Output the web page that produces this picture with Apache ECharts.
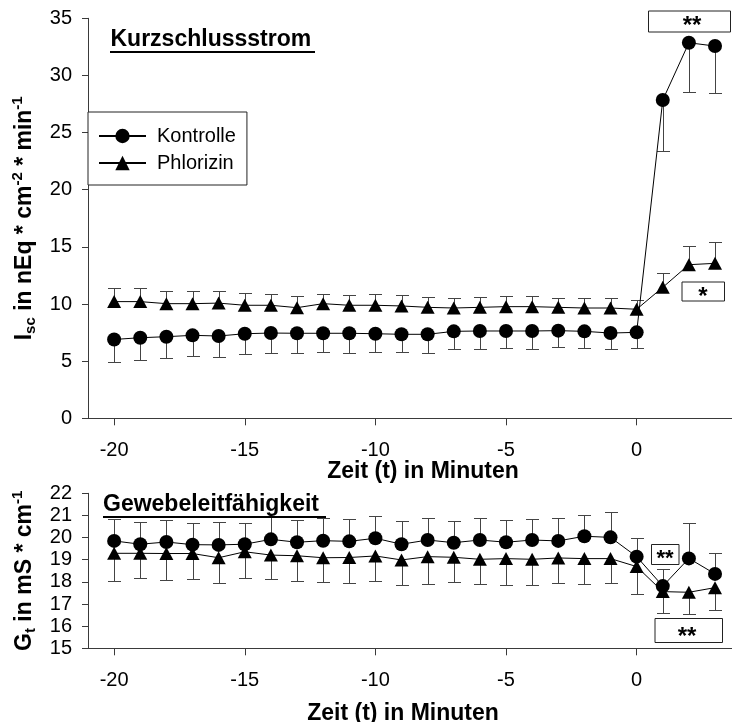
<!DOCTYPE html>
<html>
<head>
<meta charset="utf-8">
<script src="https://cdn.jsdelivr.net/npm/echarts@6/dist/echarts.min.js"></script>
<style>
  html, body { margin: 0; padding: 0; background: #fff; }
  #chart { width: 732px; height: 722px; }
</style>
</head>
<body>
<div id="chart"></div>
<script>
// Time points (minutes relative to substance addition)
const minutes = [-20, -19, -18, -17, -16, -15, -14, -13, -12, -11, -10, -9, -8, -7, -6, -5, -4, -3, -2, -1, 0, 1, 2, 3];
const xTickValues = [-20, -15, -10, -5, 0];
const seriesNames = ['Kontrolle', 'Phlorizin'];

// Short-circuit current Isc (nEq * cm^-2 * min^-1), mean and SEM
const iscKontrolle = [6.90, 7.05, 7.14, 7.26, 7.20, 7.40, 7.46, 7.44, 7.44, 7.44, 7.40, 7.35, 7.35, 7.61, 7.64, 7.64, 7.64, 7.67, 7.61, 7.46, 7.52, 27.85, 32.86, 32.57];
const iscKontrolleSem = [1.95, 1.95, 1.89, 1.81, 1.81, 1.77, 1.75, 1.73, 1.64, 1.70, 1.57, 1.58, 1.61, 1.57, 1.55, 1.52, 1.55, 1.46, 1.43, 1.42, 1.34, 4.45, 4.29, 4.14];
const iscPhlorizin = [10.21, 10.21, 10.03, 10.03, 10.08, 9.89, 9.89, 9.68, 10.03, 9.89, 9.89, 9.83, 9.71, 9.65, 9.71, 9.77, 9.77, 9.71, 9.65, 9.65, 9.54, 11.46, 13.44, 13.56];
const iscPhlorizinSem = [1.19, 1.19, 1.11, 1.11, 1.06, 1.10, 1.01, 1.02, 0.87, 0.93, 0.96, 0.93, 0.93, 0.88, 0.93, 0.93, 0.93, 0.84, 0.88, 0.85, 0.81, 1.22, 1.66, 1.89];

// Tissue conductance Gt (mS * cm^-1), mean and SEM
const gtKontrolle = [19.85, 19.70, 19.80, 19.68, 19.67, 19.70, 19.92, 19.79, 19.86, 19.83, 19.97, 19.70, 19.89, 19.77, 19.89, 19.79, 19.89, 19.85, 20.06, 20.01, 19.14, 17.81, 19.06, 18.36];
const gtKontrolleSem = [0.98, 1.02, 1.00, 0.97, 1.05, 0.97, 1.02, 1.01, 1.01, 1.02, 1.02, 1.04, 0.98, 0.99, 0.98, 1.01, 0.94, 1.02, 0.97, 1.16, 0.85, 0.77, 1.59, 0.96];
const gtPhlorizin = [19.29, 19.29, 19.28, 19.28, 19.09, 19.36, 19.21, 19.18, 19.09, 19.10, 19.17, 18.99, 19.14, 19.11, 19.02, 19.05, 19.02, 19.08, 19.05, 19.05, 18.69, 17.56, 17.53, 17.74];
const gtPhlorizinSem = [1.24, 1.13, 1.21, 1.15, 1.15, 1.17, 1.09, 1.13, 1.08, 1.14, 1.13, 1.12, 1.24, 1.12, 1.12, 1.18, 1.15, 1.12, 1.13, 1.12, 1.24, 0.95, 0.98, 1.01];

const FONT = '"Liberation Sans", Arial, Helvetica, sans-serif';
const AXIS_GRAY = '#3a3a3a';
const BAR_GRAY = '#444';

const pairs = (ys) => minutes.map((m, i) => [m, ys[i]]);
const errTriples = (ys, es) => minutes.map((m, i) => [m, ys[i], es[i]]);

// One-sided SEM whiskers: dir = -1 draws downward, +1 upward
function whiskers(dir) {
  return function (params, api) {
    const x = api.value(0), y = api.value(1), e = api.value(2);
    const p0 = api.coord([x, y]);
    const p1 = api.coord([x, y + dir * e]);
    const cx = Math.round(p0[0]) + 0.5;
    const yEnd = Math.round(p1[1]) + 0.5;
    const half = 6.5;
    return {
      type: 'group',
      children: [
        { type: 'line', shape: { x1: cx, y1: p0[1], x2: cx, y2: yEnd }, style: { stroke: BAR_GRAY, lineWidth: 1 } },
        { type: 'line', shape: { x1: cx - half, y1: yEnd, x2: cx + half, y2: yEnd }, style: { stroke: BAR_GRAY, lineWidth: 1 } }
      ]
    };
  };
}

function timeAxis(gridIndex) {
  return {
    type: 'value', gridIndex: gridIndex, min: -21, max: 3.65,
    axisLine: { show: true, onZero: false, lineStyle: { color: AXIS_GRAY, width: 1 } },
    axisTick: { show: true, length: 7, customValues: xTickValues, lineStyle: { color: AXIS_GRAY } },
    axisLabel: { customValues: xTickValues, margin: 22, fontSize: 20, color: '#000', fontFamily: FONT },
    splitLine: { show: false }
  };
}

function valueAxis(gridIndex, min, max, interval, name, nameGap, rich) {
  return {
    type: 'value', gridIndex: gridIndex, min: min, max: max, interval: interval,
    name: name, nameLocation: 'middle', nameRotate: 90, nameGap: nameGap,
    nameTextStyle: { rich: rich },
    axisLine: { show: true, onZero: false, lineStyle: { color: AXIS_GRAY, width: 1 } },
    axisTick: { show: true, length: 6, lineStyle: { color: AXIS_GRAY } },
    axisLabel: { margin: 16, fontSize: 20, color: '#000', fontFamily: FONT },
    splitLine: { show: false }
  };
}

const titleRich = {
  m: { fontSize: 23, fontWeight: 'bold', fontFamily: FONT, color: '#000', lineHeight: 28 },
  s: { fontSize: 15, fontWeight: 'bold', fontFamily: FONT, color: '#000', lineHeight: 12, verticalAlign: 'bottom' },
  p: { fontSize: 15, fontWeight: 'bold', fontFamily: FONT, color: '#000', lineHeight: 12, verticalAlign: 'top' }
};

function lineSeries(name, data, symbol, gridIdx) {
  return {
    name: name, type: 'line', xAxisIndex: gridIdx, yAxisIndex: gridIdx,
    data: data, symbol: symbol, symbolSize: symbol === 'circle' ? 14 : [14, 13],
    itemStyle: { color: '#000' }, lineStyle: { color: '#000', width: 1 },
    z: 3
  };
}

function errSeries(data, dir, gridIdx) {
  return {
    type: 'custom', xAxisIndex: gridIdx, yAxisIndex: gridIdx,
    data: data, renderItem: whiskers(dir), z: 2, silent: true
  };
}

function textEl(x, y, text, size, align) {
  return {
    type: 'text', x: x, y: y, z: 10,
    style: { text: text, fontSize: size, fontWeight: 'bold', fontFamily: FONT, fill: '#000', align: align || 'left', verticalAlign: 'middle' }
  };
}

function boxEl(x, y, w, h) {
  return {
    type: 'rect', z: 9, shape: { x: x + 0.5, y: y + 0.5, width: w, height: h },
    style: { fill: '#fff', stroke: '#222', lineWidth: 1 }
  };
}

function underline(x, y, w) {
  return { type: 'rect', z: 10, shape: { x: x, y: y, width: w, height: 2 }, style: { fill: '#000' } };
}

const chart = echarts.init(document.getElementById('chart'), null, { renderer: 'canvas' });

chart.setOption({
  animation: false,
  backgroundColor: '#fff',
  textStyle: { fontFamily: FONT },
  grid: [
    { left: 88, top: 18.3, width: 644, height: 400 },
    { left: 88, top: 493.3, width: 644, height: 155 }
  ],
  xAxis: [timeAxis(0), timeAxis(1)],
  yAxis: [
    valueAxis(0, 0, 35, 5, '{m|I}{s|sc}{m| in nEq * cm}{p|-2}{m| * min}{p|-1}', 44, titleRich),
    valueAxis(1, 15, 22, 1, '{m|G}{s|t}{m| in mS * cm}{p|-1}', 46, titleRich)
  ],
  legend: {
    data: seriesNames,
    orient: 'vertical', left: 88, top: 112,
    padding: [14, 11, 12, 10], itemGap: 7, itemWidth: 47, itemHeight: 18,
    borderColor: '#222', borderWidth: 1, backgroundColor: '#fff',
    textStyle: { fontSize: 20, color: '#000', fontFamily: FONT, padding: [0, 0, 0, 6] }
  },
  series: [
    errSeries(errTriples(iscKontrolle, iscKontrolleSem), -1, 0),
    errSeries(errTriples(iscPhlorizin, iscPhlorizinSem), 1, 0),
    lineSeries(seriesNames[0], pairs(iscKontrolle), 'circle', 0),
    lineSeries(seriesNames[1], pairs(iscPhlorizin), 'triangle', 0),
    errSeries(errTriples(gtKontrolle, gtKontrolleSem), 1, 1),
    errSeries(errTriples(gtPhlorizin, gtPhlorizinSem), -1, 1),
    lineSeries(seriesNames[0], pairs(gtKontrolle), 'circle', 1),
    lineSeries(seriesNames[1], pairs(gtPhlorizin), 'triangle', 1)
  ],
  graphic: [
    // panel headings
    textEl(110.5, 39.5, 'Kurzschlussstrom', 23),
    underline(110, 51, 205),
    textEl(103, 504.5, 'Gewebeleitfähigkeit', 23),
    underline(103, 516, 223),
    // axis titles
    textEl(423, 472, 'Zeit (t) in Minuten', 23, 'center'),
    textEl(403, 713.5, 'Zeit (t) in Minuten', 23, 'center'),
    // significance markers
    boxEl(648, 10.5, 82, 21), textEl(692, 26, '**', 24, 'center'),
    boxEl(681.5, 281.5, 42.5, 19), textEl(703, 297, '*', 24, 'center'),
    boxEl(651, 544, 27.5, 20), textEl(665, 559, '**', 22, 'center'),
    boxEl(654.5, 618, 67.5, 24), textEl(687, 637, '**', 24, 'center')
  ]
});
</script>
</body>
</html>
